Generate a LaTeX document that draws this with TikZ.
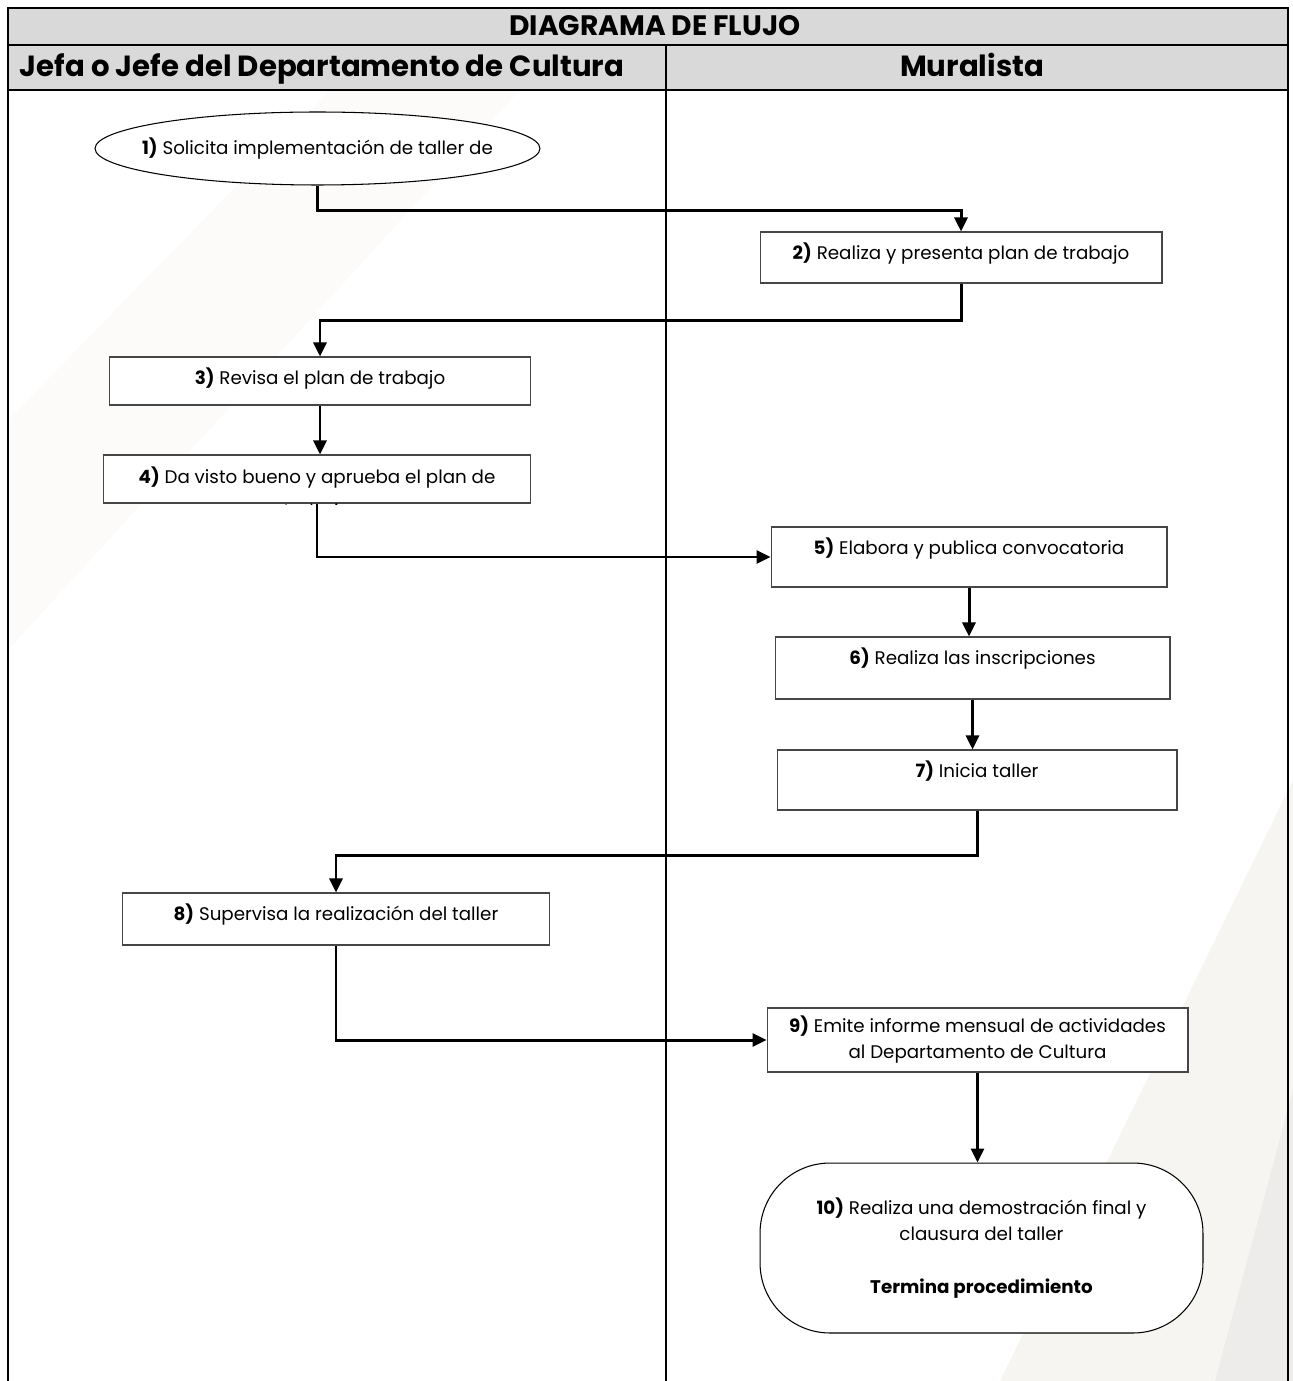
\documentclass[tikz,border=0pt]{standalone}
\usepackage{fontspec}
\setmainfont{Poppins}
\usepackage{tikz}
\usetikzlibrary{shapes,arrows.meta,positioning,calc}

\definecolor{hdrgray}{RGB}{217,217,217}
\definecolor{boxline}{RGB}{70,70,70}
\definecolor{wmark}{RGB}{247,245,242}

\begin{document}
\begin{tikzpicture}[
    x=0.02cm, y=-0.02cm,
    box/.style={draw=boxline, line width=0.6pt, fill=white, align=center, font=\fontsize{10.4}{14.8}\selectfont},
    padtop/.style={inner ysep=0pt, text height=0.55cm, text depth=#1},
    term/.style={box, ellipse, draw=black, inner xsep=-1.2cm, inner ysep=0pt},
    fin/.style={box, draw=black, rounded corners=1.4cm},
    arr/.style={line width=1.7pt, -{Triangle[length=0.28cm, width=0.26cm]}},
    lane/.style={line width=1.4pt},
    head/.style={font=\fontsize{16.6}{19}\selectfont\bfseries, text height=2.2ex, text depth=0.5ex}
]
\useasboundingbox (0,0) rectangle (1293,1381);
\fill[white!60!wmark] (8,650) -- (8,420) -- (330,90) -- (520,90) -- cycle;
\fill[wmark] (1293,780) -- (1293,1381) -- (1000,1381) -- cycle;
\fill[wmark!85!gray!70] (1293,1090) -- (1293,1381) -- (1215,1381) -- cycle;

\fill[hdrgray] (8,8) rectangle (1288,90);
\draw[lane] (8,1381) -- (8,8) -- (1288,8) -- (1288,1381);
\draw[lane] (8,45) -- (1288,45);
\draw[lane] (8,90) -- (1288,90);
\draw[lane] (666,45) -- (666,1381);

\node[head, font=\fontsize{16}{19}\selectfont\bfseries] (titulo) at (655,27) {DIAGRAMA DE FLUJO};
\node[head] (jefe) at (322,68) {Jefa o Jefe del Departamento de Cultura};
\node[head] (mural) at (972,68) {Muralista};

\node[term, minimum width=8.9cm, minimum height=1.46cm] (n1) at (317.5,148.5) {\textbf{1)} Solicita implementación de taller de};
\node[box, padtop=0.47cm, minimum width=8.04cm] (n2) at (961,257.5) {\textbf{2)} Realiza y presenta plan de trabajo};
\node[box, padtop=0.41cm, minimum width=8.44cm] (n3) at (320,381) {\textbf{3)} Revisa el plan de trabajo};
\begin{scope}
\clip (103,454) rectangle (531,504);
\node[box, minimum width=8.52cm, minimum height=0.96cm] (n4) at (317,479) {\parbox[c][0.5cm][t]{8.3cm}{\centering\textbf{4)} Da visto bueno y aprueba el plan de\\[5pt] trabajo}};
\end{scope}
\node[box, padtop=0.65cm, minimum width=7.92cm] (n5) at (969,557) {\textbf{5)} Elabora y publica convocatoria};
\node[box, padtop=0.69cm, minimum width=7.9cm] (n6) at (972.5,668) {\textbf{6)} Realiza las inscripciones};
\node[box, padtop=0.65cm, minimum width=8cm] (n7) at (977,780) {\textbf{7)} Inicia taller};
\node[box, padtop=0.49cm, minimum width=8.56cm] (n8) at (336,919) {\textbf{8)} Supervisa la realización del taller};
\node[box, minimum width=8.42cm, minimum height=1.28cm] (n9) at (977.5,1040) {\textbf{9)} Emite informe mensual de actividades\\ al Departamento de Cultura};
\node[fin, minimum width=8.86cm, minimum height=3.4cm] (n10) at (981.5,1248) {\textbf{10)} Realiza una demostración final y\\ clausura del taller\\[15pt] \textbf{Termina procedimiento}};

\draw[arr] (n1.south) -- ++(0,25) -| (n2.north);
\draw[arr] (n2.south) -- ++(0,37) -| (n3.north);
\draw[arr] (n3.south) -- (n3.south |- n4.north);
\draw[arr] (n4.south) |- (n5.west);
\draw[arr] (n5.south) -- (n5.south |- n6.north);
\draw[arr] (n6.south) -- (n6.south |- n7.north);
\draw[arr] (n7.south) -- ++(0,45) -| (n8.north);
\draw[arr] (n8.south) |- (n9.west);
\draw[arr] (n9.south) -- (n9.south |- n10.north);
\end{tikzpicture}
\end{document}
